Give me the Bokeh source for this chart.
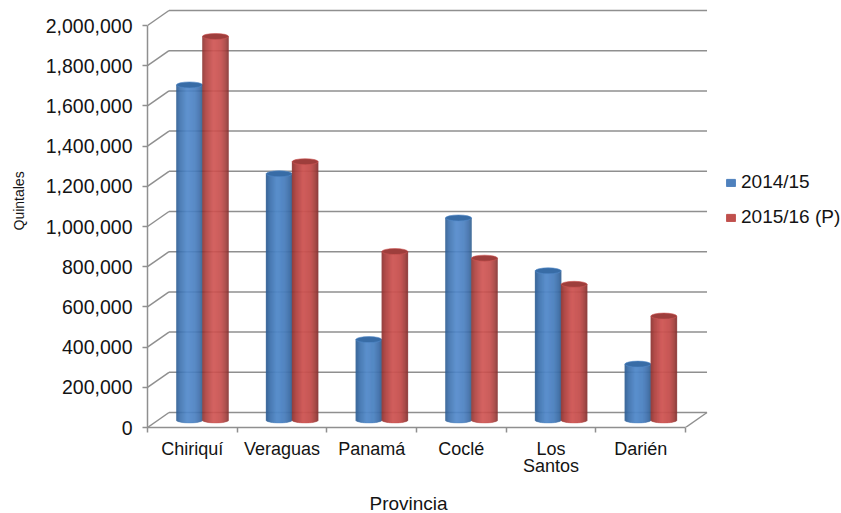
from bokeh.plotting import figure
from bokeh.models import Range1d, FixedTicker, NumeralTickFormatter, ColumnDataSource, Legend, LegendItem, Title
from bokeh.embed import file_html
from bokeh.resources import INLINE
import numpy as np

provinces = ["Chiriquí", "Veraguas", "Panamá", "Coclé", "Los\nSantos", "Darién"]
series_names = ["2014/15", "2015/16 (P)"]
values_2014 = [1667000, 1225000, 400000, 1005000, 742000, 278000]
values_2015 = [1908000, 1285000, 838000, 805000, 675000, 517000]
y_ticks = [0, 200000, 400000, 600000, 800000, 1000000, 1200000, 1400000, 1600000, 1800000, 2000000]

W, H = 841, 513
L, R, T, B = 147, 841, 5, 427          # frame edges in figure pixels
PX_X = 1 / 89.67                       # data units per pixel
PX_Y = 2000000 / 402
DX, DY = 21.5 * PX_X, 15 * PX_Y        # depth offset of the back wall
BAR_W = 26 * PX_X
BAR_SHIFT = -0.6 * PX_X
ELL_B = 3 * PX_Y
GRID = "#8f8f8f"
TXT = "#141414"

p = figure(width=W, height=H, output_backend="svg", toolbar_location=None,
           x_range=Range1d(0, (R - L) * PX_X), y_range=Range1d(0, (B - T) * PX_Y),
           min_border_left=L, min_border_right=W - R, min_border_top=T, min_border_bottom=H - B)
p.outline_line_color = None
p.grid.visible = False
p.background_fill_color = "white"

n = len(provinces)
# back wall gridlines and slanted side lines
p.segment([0] * len(y_ticks), y_ticks, [DX] * len(y_ticks), [v + DY for v in y_ticks], line_color=GRID, line_width=1.5)
p.segment([DX] * len(y_ticks), [v + DY for v in y_ticks], [n + DX] * len(y_ticks), [v + DY for v in y_ticks],
          line_color=GRID, line_width=1.5)
p.segment([n], [0], [n + DX], [DY], line_color=GRID, line_width=1.5)


def lerp_stops(t, stops):
    xs = [s[0] for s in stops]
    rgb = [np.interp(t, xs, [int(s[1][i:i + 2], 16) for s in stops]) for i in (1, 3, 5)]
    return "#%02x%02x%02x" % tuple(int(round(c)) for c in rgb)


BLUE = [(-1, "#2f5d90"), (-0.7, "#3f73ae"), (-0.15, "#528aca"), (0.45, "#4b80bf"), (0.85, "#3d6ca5"), (1, "#33608f")]
RED = [(-1, "#8c3533"), (-0.7, "#ae4240"), (-0.15, "#cf5654"), (0.45, "#c44f4d"), (0.85, "#a03f3d"), (1, "#843231")]
TOPS = ["#386ca6", "#9e3e3c"]

STRIPS = 26
edges = np.linspace(-1, 1, STRIPS + 1)
for s, (vals, stops) in enumerate(((values_2014, BLUE), (values_2015, RED))):
    d = dict(left=[], right=[], top=[], bottom=[], color=[])
    for i, v in enumerate(vals):
        cx = i + 0.5 + DX / 2 + (s - 0.5) * BAR_W + BAR_SHIFT
        for a, b in zip(edges[:-1], edges[1:]):
            m = (a + b) / 2
            d["left"].append(cx + a * BAR_W / 2)
            d["right"].append(cx + b * BAR_W / 2)
            d["top"].append(v + DY / 2)
            d["bottom"].append(DY / 2 - ELL_B * np.sqrt(max(0, 1 - m * m)))
            d["color"].append(lerp_stops(m, stops))
    p.quad(left="left", right="right", top="top", bottom="bottom", source=ColumnDataSource(d),
           fill_color="color", line_color="color", line_width=0.4)
    p.ellipse(x=[i + 0.5 + DX / 2 + (s - 0.5) * BAR_W + BAR_SHIFT for i in range(n)], y=[v + DY / 2 for v in vals],
              width=BAR_W, height=2 * ELL_B, fill_color=TOPS[s], line_color=stops[2][1], line_width=0.6)

# axes
xa = p.xaxis[0]
xa.ticker = FixedTicker(ticks=[i + 0.5 for i in range(n)], minor_ticks=list(range(n + 1)))
xa.major_label_overrides = {i + 0.5: provinces[i] for i in range(n)}
xa.bounds = (0, n)
xa.major_tick_in = 0
xa.major_tick_out = 0
xa.minor_tick_in = 0
xa.minor_tick_out = 5
xa.major_label_standoff = 6
xa.axis_line_color = GRID
xa.axis_line_width = 1.5
xa.minor_tick_line_color = GRID
xa.minor_tick_line_width = 1.5
xa.major_label_text_font = "Liberation Sans"
xa.major_label_text_font_size = "18px"
xa.major_label_text_line_height = 0.88
xa.major_label_text_color = TXT
xa.axis_label = " "                    # blank spacer that pushes the side title outward
xa.axis_label_text_font_size = "1px"
xa.axis_label_standoff = 7

ya = p.yaxis[0]
ya.ticker = FixedTicker(ticks=y_ticks)
ya.formatter = NumeralTickFormatter(format="0,0")
ya.bounds = (0, 2000000)
ya.major_tick_in = 0
ya.major_tick_out = 5
ya.minor_tick_line_color = None
ya.major_label_standoff = 10
ya.axis_line_color = GRID
ya.axis_line_width = 1.5
ya.major_tick_line_color = GRID
ya.major_tick_line_width = 1.5
ya.major_label_text_font = "Liberation Sans"
ya.major_label_text_font_size = "19.5px"
ya.major_label_text_color = TXT
ya.axis_label = " "
ya.axis_label_text_font_size = "1px"
ya.axis_label_standoff = 3

# axis titles, as side-panel titles so that they can sit off-centre
p.add_layout(Title(text="Provincia", align="left", offset=222, standoff=0, text_line_height=0.7,
                   text_font="Liberation Sans", text_font_size="19px", text_font_style="normal", text_color=TXT), "below")
p.add_layout(Title(text="Quintales", align="left", offset=197, standoff=17,
                   text_font="Liberation Sans", text_font_size="14px", text_font_style="normal", text_color=TXT), "left")

# legend
sw1 = p.quad(left=[np.nan], right=[np.nan], top=[np.nan], bottom=[np.nan], fill_color="#4f81bd", line_color="#4f81bd")
sw2 = p.quad(left=[np.nan], right=[np.nan], top=[np.nan], bottom=[np.nan], fill_color="#c0504d", line_color="#c0504d")
legend = Legend(items=[LegendItem(label=series_names[0], renderers=[sw1]), LegendItem(label=series_names[1], renderers=[sw2])],
                location=(578, 199), orientation="vertical", background_fill_alpha=0, border_line_color=None,
                glyph_width=11, glyph_height=9, label_standoff=5, spacing=13, padding=0, margin=0,
                label_text_font="Liberation Sans", label_text_font_size="19px", label_text_color=TXT)
p.add_layout(legend, "center")

open("out.html", "w").write(file_html(p, INLINE))
